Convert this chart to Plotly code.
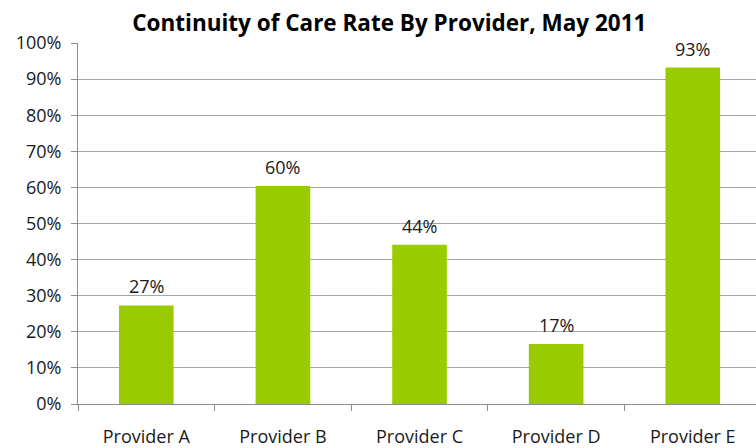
import plotly.graph_objects as go

providers = ["Provider A", "Provider B", "Provider C", "Provider D", "Provider E"]
continuity_rate = [0.273, 0.604, 0.441, 0.166, 0.932]

BAR_GREEN = "#99CC00"
GRID_GRAY = "#A6A6A6"
AXIS_GRAY = "#8C8C8C"
FONT = "Open Sans, sans-serif"
TEXT = "#1a1a1a"

fig = go.Figure()
fig.add_trace(go.Bar(
    x=providers,
    y=continuity_rate,
    marker=dict(color=BAR_GREEN, line=dict(width=0)),
    hoverinfo="skip",
))

# value labels above each bar
for name, val in zip(providers, continuity_rate):
    fig.add_annotation(
        x=name, y=val, text=f"{val:.0%}", showarrow=False,
        yanchor="bottom", yshift=5,
        font=dict(family=FONT, size=18, color=TEXT),
    )

fig.update_layout(
    width=756, height=448,
    margin=dict(l=78, r=0, t=43, b=44),
    paper_bgcolor="white", plot_bgcolor="white",
    bargap=0.6,
    showlegend=False,
    title=dict(
        text="<b>Continuity of Care Rate By Provider, May 2011</b>",
        x=0.515, xanchor="center", y=0.948, yanchor="middle",
        font=dict(family=FONT, size=22.5, color="#000000"),
    ),
    xaxis=dict(
        range=[-0.5, 4.463],
        showline=True, linecolor=AXIS_GRAY, linewidth=1,
        ticks="outside", ticklen=6, tickcolor=AXIS_GRAY,
        tickson="boundaries",
        showgrid=False,
        ticklabelstandoff=16,
        tickfont=dict(family=FONT, size=18, color=TEXT),
    ),
    yaxis=dict(
        range=[0, 1], dtick=0.1, tickformat=".0%",
        showline=True, linecolor=AXIS_GRAY, linewidth=1,
        ticks="outside", ticklen=6, tickcolor=AXIS_GRAY,
        showgrid=True, gridcolor=GRID_GRAY, gridwidth=1,
        zeroline=False,
        ticklabelstandoff=6,
        tickfont=dict(family=FONT, size=18, color=TEXT),
    ),
)

fig.write_html("out.html")
